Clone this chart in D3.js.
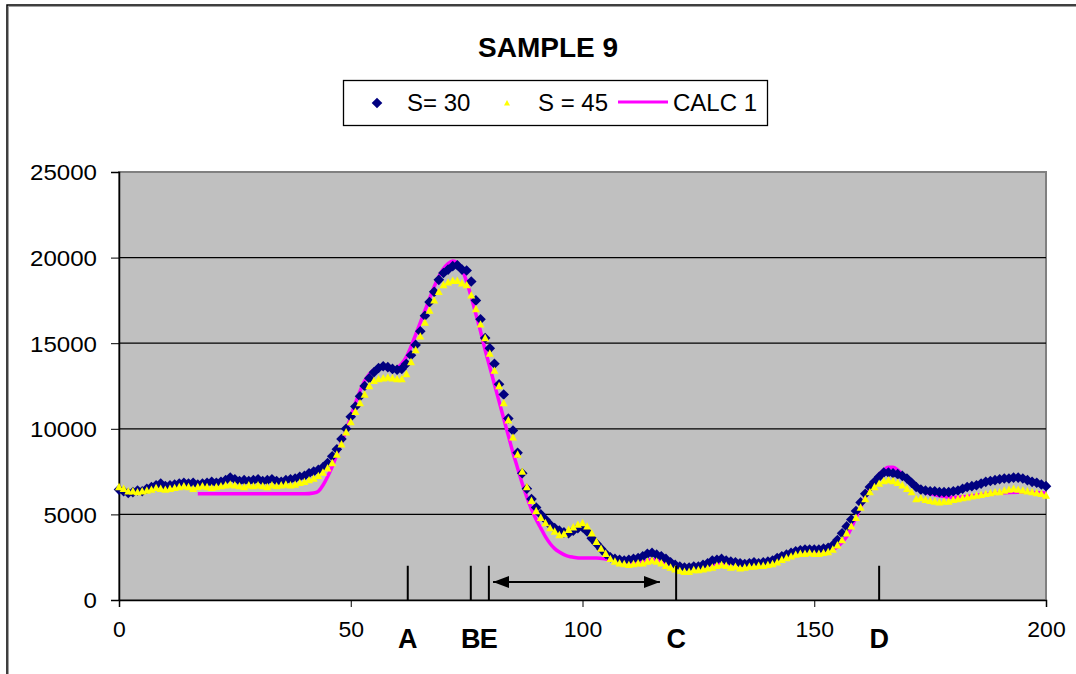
<!DOCTYPE html>
<html><head><meta charset="utf-8">
<script src="https://cdn.jsdelivr.net/npm/d3@7"></script>
<style>
html,body{margin:0;padding:0;background:#fff;}
svg text{font-family:"Liberation Sans",Arial,sans-serif;fill:#000;}
</style></head>
<body><svg id="c" width="1076" height="674"></svg>
<script>
// ---- DATA ----
const title = "SAMPLE 9";
const seriesNames = ["S= 30", "S = 45", "CALC 1"];
const xTicks = [0, 50, 100, 150, 200];
const yTicks = [0, 5000, 10000, 15000, 20000, 25000];

// S= 30 values at x = 0..200 (step 1)
const s30 = [
6450,6350,6250,6300,6400,6350,6500,6600,6700,6800,6650,
6700,6750,6800,6850,6800,6850,6750,6800,6850,6900,
6850,6900,7000,7150,7050,6950,7000,6950,7000,7050,
6950,7000,7050,6950,6900,7000,7050,7100,7200,7250,
7400,7500,7600,7750,8000,8400,8800,9400,10000,10700,
11300,11900,12500,12950,13300,13550,13650,13600,13500,13450,
13500,13800,14300,14900,15700,16600,17400,18000,18700,19100,
19300,19500,19550,19300,19250,18600,17500,16400,15300,14700,
13800,12600,12000,10600,9900,8600,7400,6500,5900,5400,
5000,4700,4400,4200,4050,3950,3900,4050,4200,4250,
4000,3600,3300,3000,2700,2500,2400,2350,2300,2350,
2400,2450,2550,2700,2750,2650,2550,2400,2200,2050,
1950,1900,1900,1950,1950,2050,2150,2300,2350,2400,
2300,2250,2200,2150,2100,2150,2200,2150,2200,2250,
2300,2450,2550,2650,2750,2850,2900,2950,2950,2950,
2950,3000,3050,3200,3500,3900,4300,4700,5200,5700,
6200,6600,6900,7200,7450,7450,7400,7350,7250,7100,
6850,6600,6450,6400,6350,6350,6300,6300,6300,6350,
6400,6500,6600,6650,6700,6800,6900,6950,7000,7050,
7100,7100,7150,7150,7100,7000,6900,6850,6750,6650
];
// S = 45 values at x = 0..200 (step 1)
const s45 = [
6600,6500,6350,6350,6300,6350,6400,6450,6550,6500,6450,
6500,6550,6600,6650,6600,6500,6600,6650,6600,6550,
6600,6650,6700,6750,6700,6650,6600,6700,6650,6700,
6650,6600,6700,6650,6700,6750,6700,6750,6850,6900,
7000,7100,7250,7450,7700,8000,8500,9100,9800,10400,
11000,11500,12000,12500,12800,12900,12950,13000,12950,12900,
12900,13200,13900,14600,15400,16200,16900,17500,18000,18400,
18550,18650,18650,18500,18400,17800,17000,16100,15300,14400,
13400,12500,11500,10500,9500,8500,7500,6600,5800,5200,
4800,4500,4200,4000,3800,3850,4100,4250,4400,4500,
4300,3900,3400,3000,2700,2400,2250,2150,2100,2050,
2100,2150,2150,2250,2300,2250,2150,2000,1900,1800,
1700,1650,1650,1750,1750,1800,1850,1900,2000,2050,
2000,1900,1950,1850,1900,1950,1950,2000,2000,2050,
2100,2200,2350,2450,2550,2650,2700,2700,2750,2700,
2700,2750,2800,2950,3200,3500,3900,4300,4800,5400,
5900,6300,6600,6800,6950,7000,6950,6850,6700,6500,
6300,5900,5950,5850,5800,5750,5700,5750,5750,5850,
5900,5950,6000,6050,6100,6150,6200,6250,6300,6300,
6400,6450,6500,6450,6400,6350,6300,6250,6200,6100
];
// CALC 1 (line)
const calcX = [17,20,25,30,35,40,42,43,44,45,46,47,48,49,50,51,52,53,54,55,56,57,58,59,60,
61,62,63,64,65,66,67,68,69,70,71,72,73,74,75,76,77,78,79,80,81,82,83,84,85,86,87,88,89,90,
91,92,93,94,95,96,97,98,100,103,105,108,110,113,115,117,120,123,126,130,135,140,145,150,153,
155,157,159,161,163,165,166,167,168,170,172,174,176,178,180,183,186,190,195,200];
const calcY = [6200,6200,6200,6200,6200,6200,6250,6350,6700,7200,7800,8500,9200,9900,10700,11500,12200,12800,13200,13450,13550,13550,13500,13450,13550,
13800,14200,14800,15500,16200,16900,17600,18300,18900,19350,19650,19800,19700,19300,18600,17700,16700,15700,14600,13600,12600,11600,10600,9600,8600,7700,6800,6000,5300,4700,
4200,3700,3300,3000,2800,2650,2550,2500,2450,2450,2400,2250,2200,2250,2350,2250,2000,1850,1950,2150,2100,2200,2600,2800,2850,
3100,3700,4800,6000,7000,7600,7750,7750,7600,7100,6600,6300,6150,6050,6000,6050,6150,6250,6300,6250];

// annotation markers
const markerLabels = ["A", "B", "E", "C", "D"];
const markerX = [62.3, 75.9, 79.8, 120.2, 164.0];
const markerTop = 2000;
const arrowX = [80.7, 116.7];
const arrowY = 1050;

// ---- CHART ----
const svg = d3.select("#c");
const pl = 119, pr = 1046, pt = 172, pb = 600;

// outer frame
svg.append("rect").attr("x", 8.5).attr("y", 6.5).attr("width", 1100).attr("height", 700)
  .attr("fill", "none").attr("stroke", "#a0a0a0").attr("stroke-width", 1);
svg.append("rect").attr("x", 7).attr("y", 5).attr("width", 1100).attr("height", 700)
  .attr("fill", "none").attr("stroke", "#000").attr("stroke-width", 1.5);

const x = d3.scaleLinear().domain([0, 200]).range([pl, pr]);
const y = d3.scaleLinear().domain([0, 25000]).range([pb, pt]);

// plot area
svg.append("rect").attr("x", pl).attr("y", pt).attr("width", pr - pl).attr("height", pb - pt)
  .attr("fill", "#c0c0c0").attr("stroke", "#808080").attr("stroke-width", 2);

// gridlines
svg.append("g").selectAll("line").data(yTicks.filter(d => d > 0 && d < 25000)).join("line")
  .attr("x1", pl).attr("x2", pr).attr("y1", d => y(d)).attr("y2", d => y(d))
  .attr("stroke", "#000").attr("stroke-width", 1.3);

// axes
const yAxis = d3.axisLeft(y).tickValues(yTicks).tickSize(8).tickPadding(14).tickFormat(d3.format("d"));
const gy = svg.append("g").attr("transform", `translate(${pl},0)`).call(yAxis);
gy.select(".domain").attr("stroke", "#000").attr("stroke-width", 1.5);
gy.selectAll(".tick line").attr("stroke", "#000");
gy.selectAll("text").attr("font-size", 22).attr("fill", "#000").attr("dy", "0.36em")
  .attr("textLength", d => String(d).length * 13.4).attr("lengthAdjust", "spacingAndGlyphs");

const xAxis = d3.axisBottom(x).tickValues(xTicks).tickSize(7).tickPadding(28).tickFormat(d3.format("d"));
const gx = svg.append("g").attr("transform", `translate(0,${pb})`).call(xAxis);
gx.select(".domain").attr("stroke", "#000").attr("stroke-width", 1.5);
gx.selectAll(".tick line").attr("stroke", "#000");
gx.selectAll("text").attr("font-size", 22).attr("fill", "#000").attr("dy", "0.1em")
  .attr("textLength", d => String(d).length * 12.8).attr("lengthAdjust", "spacingAndGlyphs");

// clip
svg.append("clipPath").attr("id", "clip").append("rect")
  .attr("x", pl - 7).attr("y", pt).attr("width", pr - pl + 14).attr("height", pb - pt);

// CALC 1 line
const calcData = calcX.map((d, i) => [d, calcY[i]]);
svg.append("path").datum(calcData)
  .attr("d", d3.line().x(d => x(d[0])).y(d => y(d[1])).curve(d3.curveMonotoneX))
  .attr("fill", "none").attr("stroke", "#ff00ff").attr("stroke-width", 3.5);

const diamond = "M0,-5.3L5.3,0L0,5.3L-5.3,0Z";
const tri = "M0,-4.2L4,3.2L-4,3.2Z";

svg.append("g").attr("clip-path", "url(#clip)").selectAll("path").data(s30).join("path")
  .attr("d", diamond).attr("transform", (d, i) => `translate(${x(i)},${y(d)})`)
  .attr("fill", "#000080");
svg.append("g").attr("clip-path", "url(#clip)").selectAll("path").data(s45).join("path")
  .attr("d", tri).attr("transform", (d, i) => `translate(${x(i)},${y(d)})`)
  .attr("fill", "#ffff00");

// annotation marker lines
svg.append("g").selectAll("line").data(markerX).join("line")
  .attr("x1", d => x(d)).attr("x2", d => x(d)).attr("y1", y(0)).attr("y2", y(markerTop))
  .attr("stroke", "#000").attr("stroke-width", 2);
svg.append("g").selectAll("text").data(markerLabels).join("text")
  .attr("x", (d, i) => x(markerX[i])).attr("y", 648).attr("text-anchor", "middle")
  .attr("font-size", 27).attr("font-weight", "bold").text(d => d);

// double arrow
const defs = svg.append("defs");
["s", "e"].forEach(k => {
  defs.append("marker").attr("id", "ah" + k).attr("viewBox", "0 0 16 12")
    .attr("refX", k === "e" ? 16 : 0).attr("refY", 6).attr("markerWidth", 16).attr("markerHeight", 12)
    .attr("markerUnits", "userSpaceOnUse").attr("orient", "0")
    .append("path").attr("d", k === "e" ? "M0,0L16,6L0,12Z" : "M16,0L0,6L16,12Z").attr("fill", "#000");
});
svg.append("line").attr("x1", x(arrowX[0])).attr("x2", x(arrowX[1]))
  .attr("y1", y(arrowY)).attr("y2", y(arrowY)).attr("stroke", "#000").attr("stroke-width", 2)
  .attr("marker-start", "url(#ahs)").attr("marker-end", "url(#ahe)");

// title
svg.append("text").attr("x", 548).attr("y", 57).attr("text-anchor", "middle")
  .attr("font-size", 28).attr("font-weight", "bold").text(title);

// legend
const lg = svg.append("g");
lg.append("rect").attr("x", 343.5).attr("y", 80.5).attr("width", 424).attr("height", 45)
  .attr("fill", "#fff").attr("stroke", "#000").attr("stroke-width", 1.3);
lg.append("path").attr("d", diamond).attr("transform", "translate(377,103)").attr("fill", "#000080");
lg.append("text").attr("x", 407).attr("y", 111).attr("font-size", 24).text(seriesNames[0]);
lg.append("path").attr("d", "M0,-3L3,2.5L-3,2.5Z").attr("transform", "translate(507,103)").attr("fill", "#ffff00");
lg.append("text").attr("x", 538).attr("y", 111).attr("font-size", 24).text(seriesNames[1]);
lg.append("line").attr("x1", 618).attr("x2", 668).attr("y1", 102).attr("y2", 102)
  .attr("stroke", "#ff00ff").attr("stroke-width", 3);
lg.append("text").attr("x", 673).attr("y", 111).attr("font-size", 24).text(seriesNames[2]);
</script></body></html>
